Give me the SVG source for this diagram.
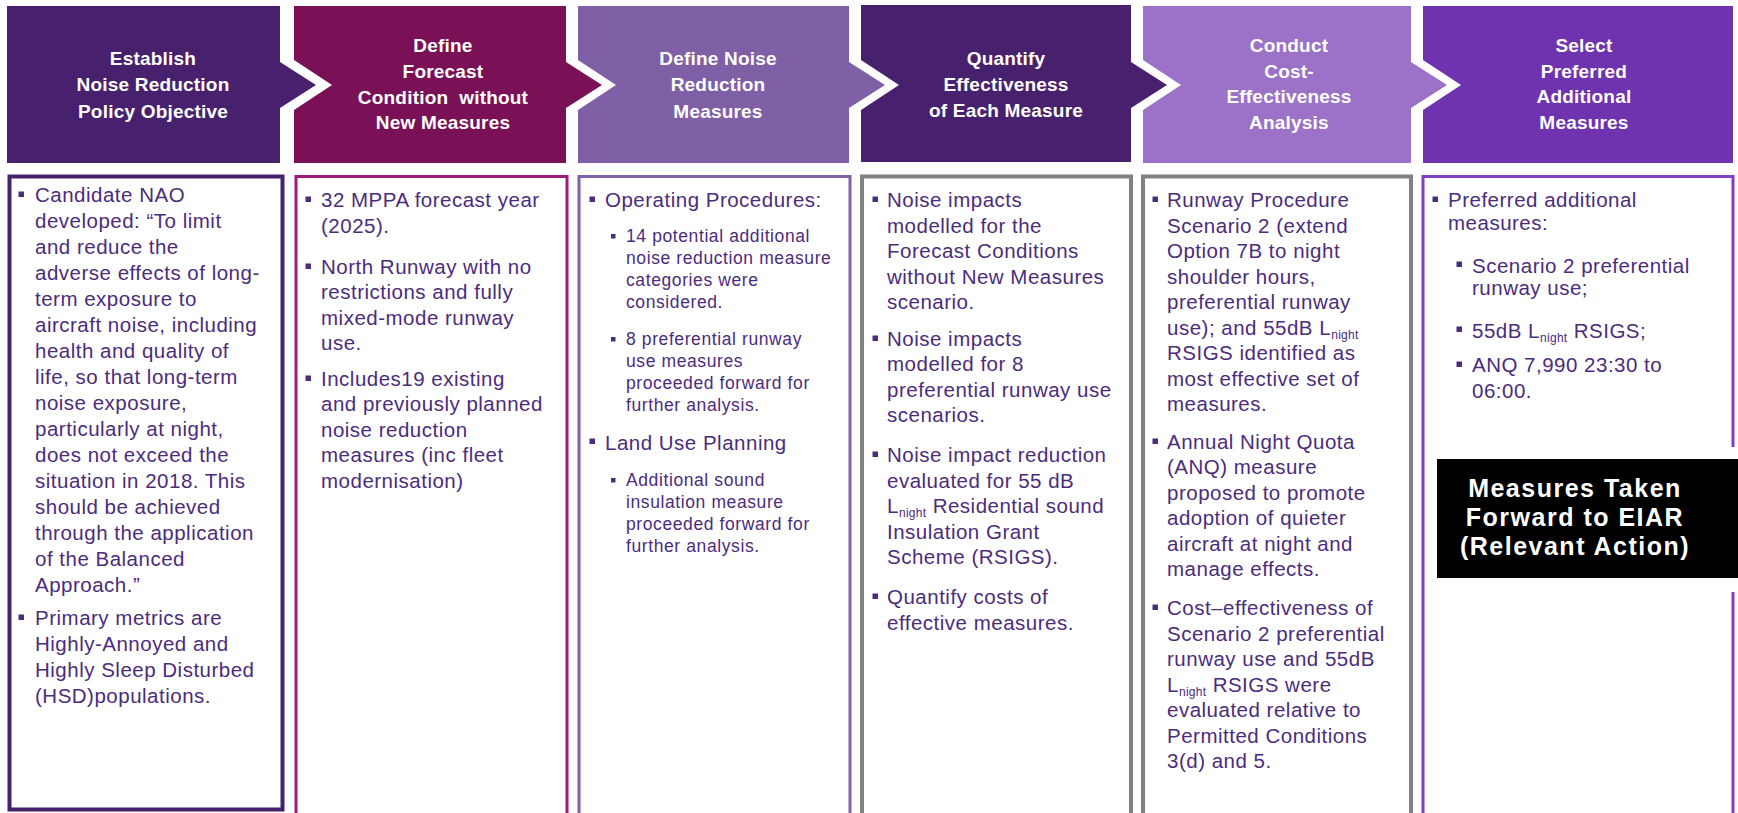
<svg xmlns="http://www.w3.org/2000/svg" width="1738" height="813" viewBox="0 0 1738 813">
<style>
.hd{fill:#fff;font-family:"Liberation Sans",Arial,sans-serif;font-weight:bold;font-size:19px;text-anchor:middle;letter-spacing:0.2px}
.tx{fill:#4B2C7D;font-family:"Liberation Sans",Arial,sans-serif;font-size:20.5px;letter-spacing:0.5px}
.sm{font-size:17.5px;letter-spacing:0.6px}
.sub{font-size:12px;letter-spacing:0.3px}
.bl{fill:#4B2C7D}
.box{fill:#fff}
.blk{fill:#fff;font-family:"Liberation Sans",Arial,sans-serif;font-weight:bold;font-size:25px;text-anchor:middle;letter-spacing:1.5px}
</style>
<rect width="1738" height="813" fill="#fff"/>

<g id="h1"><path d="M7,6 H280 V62 L316,85 L280,108 V163 H7 Z" fill="#47216E"/>
<text class="hd"><tspan x="153" y="65">Establish</tspan><tspan x="153" y="91">Noise Reduction</tspan><tspan x="153" y="118">Policy Objective</tspan></text></g>

<g id="h2"><path d="M294,6 H566 V62 L602,85 L566,108 V163 H294 V110 L332,85 L294,60 Z" fill="#7A1157"/>
<text class="hd"><tspan x="443" y="52">Define</tspan><tspan x="443" y="78">Forecast</tspan><tspan x="443" y="104">Condition&#160; without</tspan><tspan x="443" y="129">New Measures</tspan></text></g>

<g id="h3"><path d="M578,6 H849 V62 L885,85 L849,108 V163 H578 V110 L616,85 L578,60 Z" fill="#7F5FA5"/>
<text class="hd"><tspan x="718" y="65">Define Noise</tspan><tspan x="718" y="91">Reduction</tspan><tspan x="718" y="118">Measures</tspan></text></g>

<g id="h4"><path d="M861,5 H1131 V62 L1167,85 L1131,108 V162 H861 V110 L899,85 L861,60 Z" fill="#47216E"/>
<text class="hd"><tspan x="1006" y="65">Quantify</tspan><tspan x="1006" y="91">Effectiveness</tspan><tspan x="1006" y="117">of Each Measure</tspan></text></g>

<g id="h5"><path d="M1143,6 H1411 V62 L1447,85 L1411,108 V163 H1143 V110 L1181,85 L1143,60 Z" fill="#9B72C8"/>
<text class="hd"><tspan x="1289" y="52">Conduct</tspan><tspan x="1289" y="78">Cost-</tspan><tspan x="1289" y="103">Effectiveness</tspan><tspan x="1289" y="129">Analysis</tspan></text></g>

<g id="h6"><path d="M1423,6 H1733 V163 H1423 V110 L1461,85 L1423,60 Z" fill="#6F33AF"/>
<text class="hd"><tspan x="1584" y="52">Select</tspan><tspan x="1584" y="78">Preferred</tspan><tspan x="1584" y="103">Additional</tspan><tspan x="1584" y="129">Measures</tspan></text></g>

<g id="b1"><rect class="box" x="9.5" y="176.5" width="273" height="633" stroke="#47216E" stroke-width="4"/>
<g class="bl"><rect x="18.5" y="191.5" width="5.5" height="5.5"/><rect x="18.5" y="614.5" width="5.5" height="5.5"/></g>
<text class="tx"><tspan x="35" y="202">Candidate NAO</tspan><tspan x="35" y="228">developed: “To limit</tspan><tspan x="35" y="254">and reduce the</tspan><tspan x="35" y="280">adverse effects of long-</tspan><tspan x="35" y="306">term exposure to</tspan><tspan x="35" y="332">aircraft noise, including</tspan><tspan x="35" y="358">health and quality of</tspan><tspan x="35" y="384">life, so that long-term</tspan><tspan x="35" y="410">noise exposure,</tspan><tspan x="35" y="436">particularly at night,</tspan><tspan x="35" y="462">does not exceed the</tspan><tspan x="35" y="488">situation in 2018. This</tspan><tspan x="35" y="514">should be achieved</tspan><tspan x="35" y="540">through the application</tspan><tspan x="35" y="566">of the Balanced</tspan><tspan x="35" y="592">Approach.”</tspan><tspan x="35" y="625">Primary metrics are</tspan><tspan x="35" y="651">Highly-Annoyed and</tspan><tspan x="35" y="677">Highly Sleep Disturbed</tspan><tspan x="35" y="703">(HSD)populations.</tspan></text></g>

<g id="b2"><rect class="box" x="296" y="176.5" width="271" height="650" stroke="#A01A7A" stroke-width="3"/>
<g class="bl"><rect x="305.5" y="196.5" width="5.5" height="5.5"/><rect x="305.5" y="263.5" width="5.5" height="5.5"/><rect x="305.5" y="375.5" width="5.5" height="5.5"/></g>
<text class="tx"><tspan x="321" y="207">32 MPPA forecast year</tspan><tspan x="321" y="233">(2025).</tspan><tspan x="321" y="274">North Runway with no</tspan><tspan x="321" y="299">restrictions and fully</tspan><tspan x="321" y="325">mixed-mode runway</tspan><tspan x="321" y="350">use.</tspan><tspan x="321" y="386">Includes19 existing</tspan><tspan x="321" y="411">and previously planned</tspan><tspan x="321" y="437">noise reduction</tspan><tspan x="321" y="462">measures (inc fleet</tspan><tspan x="321" y="488">modernisation)</tspan></text></g>

<g id="b3"><rect class="box" x="579" y="176.5" width="271" height="650" stroke="#8060A8" stroke-width="3"/>
<g class="bl"><rect x="589.5" y="196.5" width="5.5" height="5.5"/><rect x="589.5" y="438.5" width="5.5" height="5.5"/>
<rect x="611" y="234" width="4.5" height="4.5"/><rect x="611" y="337" width="4.5" height="4.5"/><rect x="611" y="478" width="4.5" height="4.5"/></g>
<text class="tx"><tspan x="605" y="207">Operating Procedures:</tspan><tspan x="605" y="450">Land Use Planning</tspan></text>
<text class="tx sm"><tspan x="626" y="242">14 potential additional</tspan><tspan x="626" y="264">noise reduction measure</tspan><tspan x="626" y="286">categories were</tspan><tspan x="626" y="308">considered.</tspan><tspan x="626" y="345">8 preferential runway</tspan><tspan x="626" y="367">use measures</tspan><tspan x="626" y="389">proceeded forward for</tspan><tspan x="626" y="411">further analysis.</tspan><tspan x="626" y="486">Additional sound</tspan><tspan x="626" y="508">insulation measure</tspan><tspan x="626" y="530">proceeded forward for</tspan><tspan x="626" y="552">further analysis.</tspan></text></g>

<g id="b4"><rect class="box" x="862" y="176.5" width="269" height="650" stroke="#808080" stroke-width="4"/>
<g class="bl"><rect x="872.5" y="196.5" width="5.5" height="5.5"/><rect x="872.5" y="335.5" width="5.5" height="5.5"/><rect x="872.5" y="451.5" width="5.5" height="5.5"/><rect x="872.5" y="593.5" width="5.5" height="5.5"/></g>
<text class="tx"><tspan x="887" y="207">Noise impacts</tspan><tspan x="887" y="233">modelled for the</tspan><tspan x="887" y="258">Forecast Conditions</tspan><tspan x="887" y="284">without New Measures</tspan><tspan x="887" y="309">scenario.</tspan><tspan x="887" y="346">Noise impacts</tspan><tspan x="887" y="371">modelled for 8</tspan><tspan x="887" y="397">preferential runway use</tspan><tspan x="887" y="422">scenarios.</tspan><tspan x="887" y="462">Noise impact reduction</tspan><tspan x="887" y="488">evaluated for 55 dB</tspan><tspan x="887" y="513">L</tspan><tspan class="sub" dy="4">night</tspan><tspan dy="-4"> Residential sound</tspan><tspan x="887" y="539">Insulation Grant</tspan><tspan x="887" y="564">Scheme (RSIGS).</tspan><tspan x="887" y="604">Quantify costs of</tspan><tspan x="887" y="630">effective measures.</tspan></text></g>

<g id="b5"><rect class="box" x="1143" y="176.5" width="268" height="650" stroke="#808080" stroke-width="4"/>
<g class="bl"><rect x="1152.5" y="196.5" width="5.5" height="5.5"/><rect x="1152.5" y="438.5" width="5.5" height="5.5"/><rect x="1152.5" y="604.5" width="5.5" height="5.5"/></g>
<text class="tx"><tspan x="1167" y="207">Runway Procedure</tspan><tspan x="1167" y="233">Scenario 2 (extend</tspan><tspan x="1167" y="258">Option 7B to night</tspan><tspan x="1167" y="284">shoulder hours,</tspan><tspan x="1167" y="309">preferential runway</tspan><tspan x="1167" y="335">use); and 55dB L</tspan><tspan class="sub" dy="4">night</tspan><tspan x="1167" y="360">RSIGS identified as</tspan><tspan x="1167" y="386">most effective set of</tspan><tspan x="1167" y="411">measures.</tspan><tspan x="1167" y="449">Annual Night Quota</tspan><tspan x="1167" y="474">(ANQ) measure</tspan><tspan x="1167" y="500">proposed to promote</tspan><tspan x="1167" y="525">adoption of quieter</tspan><tspan x="1167" y="551">aircraft at night and</tspan><tspan x="1167" y="576">manage effects.</tspan><tspan x="1167" y="615">Cost–effectiveness of</tspan><tspan x="1167" y="641">Scenario 2 preferential</tspan><tspan x="1167" y="666">runway use and 55dB</tspan><tspan x="1167" y="692">L</tspan><tspan class="sub" dy="4">night</tspan><tspan dy="-4"> RSIGS were</tspan><tspan x="1167" y="717">evaluated relative to</tspan><tspan x="1167" y="743">Permitted Conditions</tspan><tspan x="1167" y="768">3(d) and 5.</tspan></text></g>

<g id="b6"><rect class="box" x="1423" y="176.5" width="310" height="650"/>
<path d="M1423,830 V176.5 H1733 V447 M1733,592 V830" fill="none" stroke="#7E3FC6" stroke-width="3"/>
<g class="bl"><rect x="1432.5" y="196.5" width="5.5" height="5.5"/><rect x="1456.5" y="261.5" width="5.5" height="5.5"/><rect x="1456.5" y="326.5" width="5.5" height="5.5"/><rect x="1456.5" y="361.5" width="5.5" height="5.5"/></g>
<text class="tx"><tspan x="1448" y="207">Preferred additional</tspan><tspan x="1448" y="230">measures:</tspan><tspan x="1472" y="273">Scenario 2 preferential</tspan><tspan x="1472" y="295">runway use;</tspan><tspan x="1472" y="338">55dB L</tspan><tspan class="sub" dy="4">night</tspan><tspan dy="-4"> RSIGS;</tspan><tspan x="1472" y="372">ANQ 7,990 23:30 to</tspan><tspan x="1472" y="398">06:00.</tspan></text></g>

<g id="eiar"><rect x="1437" y="459" width="301" height="119" fill="#000"/>
<text class="blk"><tspan x="1575" y="497">Measures Taken</tspan><tspan x="1575" y="526">Forward to EIAR</tspan><tspan x="1575" y="555">(Relevant Action)</tspan></text></g>

<g id="connectors"></g>
</svg>
